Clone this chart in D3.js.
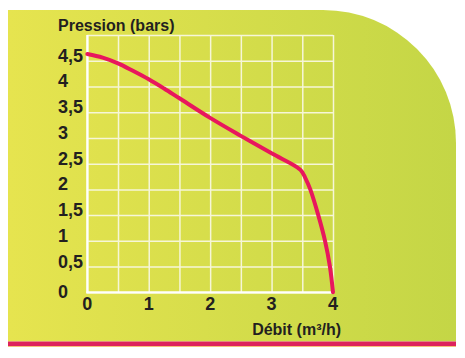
<!DOCTYPE html>
<html>
<head>
<meta charset="utf-8">
<script src="https://cdn.jsdelivr.net/npm/d3@7"></script>
<style>
html,body{margin:0;padding:0;background:#fff;}
svg{display:block;}
text{font-family:"Liberation Sans",Arial,sans-serif;font-weight:bold;fill:#231f20;}
</style>
</head>
<body>
<svg id="chart" width="465" height="358"></svg>
<script>
// Data
const flowX = [0, 0.25, 0.5, 0.75, 1, 1.25, 1.5, 2, 2.5, 3, 3.47, 3.55, 3.63, 3.76, 3.87, 3.95, 4];
const pressureY = [4.63, 4.56, 4.45, 4.30, 4.14, 3.96, 3.77, 3.39, 3.04, 2.70, 2.38, 2.22, 2.0, 1.5, 1.0, 0.5, 0];
const yTickValues = [0, 0.5, 1, 1.5, 2, 2.5, 3, 3.5, 4, 4.5];
const yTickLabels = ["0", "0,5", "1", "1,5", "2", "2,5", "3", "3,5", "4", "4,5"];
const xTickValues = [0, 1, 2, 3, 4];
const xTickLabels = ["0", "1", "2", "3", "4"];
const yTitle = "Pression (bars)";
const xTitle = "Débit (m³/h)";

const svg = d3.select("#chart");

// Background panel with gradient and rounded top-right corner
const defs = svg.append("defs");
const grad = defs.append("linearGradient").attr("id", "bg").attr("x1", "0").attr("x2", "1").attr("y1", "0").attr("y2", "0");
grad.append("stop").attr("offset", "0").attr("stop-color", "#e6e44f");
grad.append("stop").attr("offset", "1").attr("stop-color", "#c4d646");

const L = 8, T = 10, R = 456, B = 341.5, rad = 133;
svg.append("path")
  .attr("d", `M${L},${T} H${R - rad} A${rad},${rad} 0 0 1 ${R},${T + rad} V${B} H${L} Z`)
  .attr("fill", "url(#bg)");
svg.append("rect").attr("x", L).attr("y", B).attr("width", R - L).attr("height", 4.5).attr("fill", "#dd235c");
svg.append("rect").attr("x", L).attr("y", B + 4.5).attr("width", R - L).attr("height", 0.8).attr("fill", "#f2b25a");

// Scales
const x = d3.scaleLinear().domain([0, 4]).range([87.3, 333]);
const y = d3.scaleLinear().domain([0, 5]).range([292.3, 35]);

// Grid
const gridX = d3.range(0, 4.01, 0.5);
const gridY = d3.range(0, 5.01, 0.5);
const gx = svg.append("g").attr("transform", `translate(0,${y(0)})`)
  .call(d3.axisBottom(x).tickValues(gridX).tickSize(-(y(0) - y(5))).tickFormat(""));
gx.select(".domain").remove();
gx.selectAll("line").attr("stroke", "#f6f6d8").attr("stroke-width", 1.5);
const gy = svg.append("g").attr("transform", `translate(${x(0)},0)`)
  .call(d3.axisLeft(y).tickValues(gridY).tickSize(-(x(4) - x(0))).tickFormat(""));
gy.select(".domain").remove();
gy.selectAll("line").attr("stroke", "#f6f6d8").attr("stroke-width", 1.5);

// Axis lines
svg.append("line").attr("x1", x(0)).attr("x2", x(0)).attr("y1", y(5)).attr("y2", y(0) + 1).attr("stroke", "#fff").attr("stroke-width", 2.2);
svg.append("line").attr("x1", x(0) - 1).attr("x2", x(4)).attr("y1", y(0)).attr("y2", y(0)).attr("stroke", "#fff").attr("stroke-width", 2.2);

// Y tick labels (left aligned)
svg.append("g").selectAll("text").data(yTickValues).join("text")
  .attr("x", 58)
  .attr("y", d => y(d) + (d === 0 ? 6 : 1))
  .attr("font-size", 18)
  .text((d, i) => yTickLabels[i]);

// X tick labels
svg.append("g").selectAll("text").data(xTickValues).join("text")
  .attr("x", d => x(d))
  .attr("y", 309.5)
  .attr("text-anchor", "middle")
  .attr("font-size", 18)
  .text((d, i) => xTickLabels[i]);

// Titles
svg.append("text").attr("x", 58).attr("y", 31).attr("font-size", 16).text(yTitle);
svg.append("text").attr("x", 341).attr("y", 335).attr("text-anchor", "end").attr("font-size", 16).text(xTitle);

// Curve
const pts = flowX.map((v, i) => [v, pressureY[i]]);
svg.append("path")
  .datum(pts)
  .attr("fill", "none")
  .attr("stroke", "#e8175d")
  .attr("stroke-width", 4)
  .attr("stroke-linecap", "round")
  .attr("stroke-linejoin", "round")
  .attr("d", d3.line().x(d => x(d[0])).y(d => y(d[1])).curve(d3.curveCatmullRom.alpha(0.5)));
</script>
</body>
</html>
